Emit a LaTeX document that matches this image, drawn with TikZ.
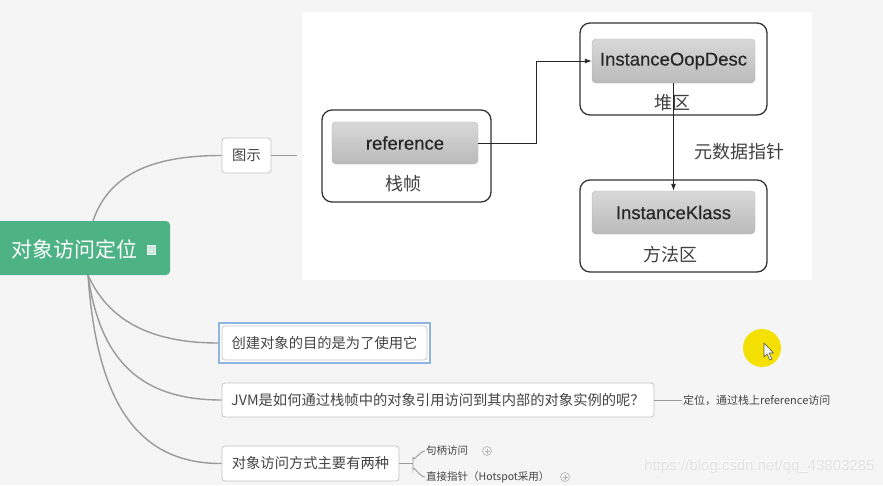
\documentclass[tikz,border=0pt]{standalone}
\usepackage{fontspec}
\setmainfont{Noto Sans CJK SC}
\newfontfamily\latinfont{Liberation Sans}
\newfontfamily\reffont[FakeBold=0.4]{Liberation Sans}
\usetikzlibrary{arrows.meta,calc}
\definecolor{bg}{HTML}{F5F5F5}
\definecolor{rootgreen}{HTML}{4DB384}
\definecolor{mmgray}{HTML}{C4C4C4}
\definecolor{curvegray}{HTML}{9A9A9A}
\definecolor{txt}{HTML}{444444}
\definecolor{selblue}{HTML}{8FB3E2}
\definecolor{cursoryellow}{HTML}{F5E003}
\begin{document}
\begin{tikzpicture}[x=1pt,y=-1pt,
  mmbox/.style={draw=mmgray, fill=white, rounded corners=3pt, line width=0.8pt, inner sep=0pt, text=txt, font=\fontsize{14.3}{16}\selectfont},
  branch/.style={draw=curvegray, line width=1.4pt},
  thinbranch/.style={draw=curvegray, line width=0.9pt},
  smalltxt/.style={text=txt, inner sep=1pt, font=\fontsize{10.5}{12}\selectfont},
  outerbox/.style={draw=black!80, rounded corners=10pt, line width=1.3pt, fill=white, inner sep=0pt},
  innerbox/.style={draw=black!30, rounded corners=4pt, top color=black!15, bottom color=black!27, inner sep=0pt, font=\reffont\fontsize{18.5}{20}\selectfont, text=black!85},
  imglabel/.style={font=\fontsize{18}{20}\selectfont, text=black!75, inner sep=0pt},
  arr/.style={-{Latex[length=7pt,width=5pt]}, line width=0.9pt, draw=black!85},
  plusicon/.style={draw=gray!60, circle, line width=0.6pt, minimum size=9pt, inner sep=0pt},
]
\path[use as bounding box, fill=bg] (0,0) rectangle (883,485);

% ---- embedded picture ----
\fill[white] (302,12) rectangle (812,280);
\node[outerbox, minimum width=169pt, minimum height=92pt] (stack) at (406.5,156) {};
\node[innerbox, minimum width=146pt, minimum height=42pt] (ref) at (405,143) {reference};
\node[imglabel] (stacklabel) at (403,184) {栈帧};
\node[outerbox, minimum width=187pt, minimum height=92pt] (heap) at (673.5,69) {};
\node[innerbox, minimum width=163pt, minimum height=44pt] (oop) at (673.5,61) {InstanceOopDesc};
\node[imglabel] (heaplabel) at (672,103) {堆区};
\node[outerbox, minimum width=187pt, minimum height=92pt] (method) at (673.5,226) {};
\node[innerbox, minimum width=163pt, minimum height=43pt] (klass) at (673.5,212.5) {InstanceKlass};
\node[imglabel] (methodlabel) at (670,255) {方法区};
\node[imglabel] (metalabel) at (739,152) {元数据指针};
\draw[arr] (ref.east) -- ++(58,0) |- (oop.west);
\draw[arr] (oop.south) -- (klass.north);

% ---- mind map ----
\node[fill=rootgreen, rounded corners=4pt, minimum width=176pt, minimum height=54pt, inner sep=0pt] (root) at (82,248) {};
\node[text=white, inner sep=0pt, font=\fontsize{21}{24}\selectfont] (rootlabel) at (75,249) {对象访问定位};
\node[draw=white!85!rootgreen, fill=white!70!rootgreen, line width=0.6pt, minimum width=8pt, minimum height=9pt, inner sep=0pt] (noteicon) at (151,250) {};
\draw[white!85!rootgreen, line width=0.6pt] ($(noteicon.west)+(2,-1)$) -- ($(noteicon.east)+(-2,-1)$)
  ($(noteicon.west)+(2,1.5)$) -- ($(noteicon.east)+(-2,1.5)$);

\node[mmbox, minimum width=49pt, minimum height=35pt] (tushi) at (246.5,155.5) {图示};
\coordinate (imgL) at (297,155.5);
\draw[thinbranch] (tushi.east) -- (imgL);

\node[draw=selblue, line width=1.6pt, fill=white, minimum width=211pt, minimum height=40pt, inner sep=0pt] (create) at (324.5,343) {};
\node[mmbox, draw=gray!45, minimum width=205pt, minimum height=34pt] (createin) at (324.5,343) {创建对象的目的是为了使用它};

\node[mmbox, minimum width=432pt, minimum height=34pt] (jvm) at (438,400) {JVM是如何通过栈帧中的对象引用访问到其内部的对象实例的呢？};
\node[smalltxt, anchor=west, font=\fontsize{11}{12}\selectfont] (dingwei) at (682,400) {定位，通过栈上reference访问};
\draw[thinbranch] (jvm.east) -- (dingwei.west);

\node[mmbox, minimum width=177pt, minimum height=35pt] (ways) at (310.5,463.5) {对象访问方式主要有两种};
\node[smalltxt, anchor=west] (jubing) at (425,451) {句柄访问};
\node[smalltxt, anchor=west] (zhijie) at (425,477) {直接指针（Hotspot采用）};
\node[plusicon] (plus1) at (487,451) {};
\node[plusicon] (plus2) at (565,477) {};
\draw[gray!60, line width=0.6pt] ($(plus1)+(-2.5,0)$) -- ($(plus1)+(2.5,0)$) ($(plus1)+(0,-2.5)$) -- ($(plus1)+(0,2.5)$);
\draw[gray!60, line width=0.6pt] ($(plus2)+(-2.5,0)$) -- ($(plus2)+(2.5,0)$) ($(plus2)+(0,-2.5)$) -- ($(plus2)+(0,2.5)$);
\coordinate (fork) at (413,463.5);
\draw[thinbranch] (ways.east) -- (fork);
\draw[thinbranch] (fork) -- ++(0,-6) to[out=-90,in=180] (jubing.west);
\draw[thinbranch] (fork) -- ++(0,6) to[out=90,in=180] (zhijie.west);

\coordinate (rtop) at (93,221);
\coordinate (rbot) at (88,275);
\draw[branch] (rtop) .. controls (110,170) and (160,155.5) .. (tushi.west);
\draw[branch] (rbot) .. controls (108,320) and (150,343) .. (create.west);
\draw[branch] (rbot) .. controls (100,360) and (140,400) .. (jvm.west);
\draw[branch] (rbot) .. controls (96,390) and (130,464) .. (ways.west);

% ---- cursor highlight ----
\node[circle, fill=cursoryellow, minimum size=38pt, inner sep=0pt] (spot) at (762,348) {};
\draw[fill=white, draw=black!70, line width=0.6pt, line join=round]
  ($(spot)+(2,-5)$) -- ++(0,14) -- ++(3,-3) -- ++(3,6) -- ++(2,-1) -- ++(-3,-6) -- ++(4.5,0) -- cycle;

% ---- watermark ----
\node[text=white, font=\latinfont\fontsize{15}{17}\selectfont, inner sep=0pt, anchor=east] (wm) at (874,466) {https://blog.csdn.net/qq\_43803285};
\node[text=gray!35, font=\latinfont\fontsize{15}{17}\selectfont, inner sep=0pt, anchor=east, opacity=0.6] (wm2) at (874.6,466.6) {https://blog.csdn.net/qq\_43803285};
\end{tikzpicture}
\end{document}
